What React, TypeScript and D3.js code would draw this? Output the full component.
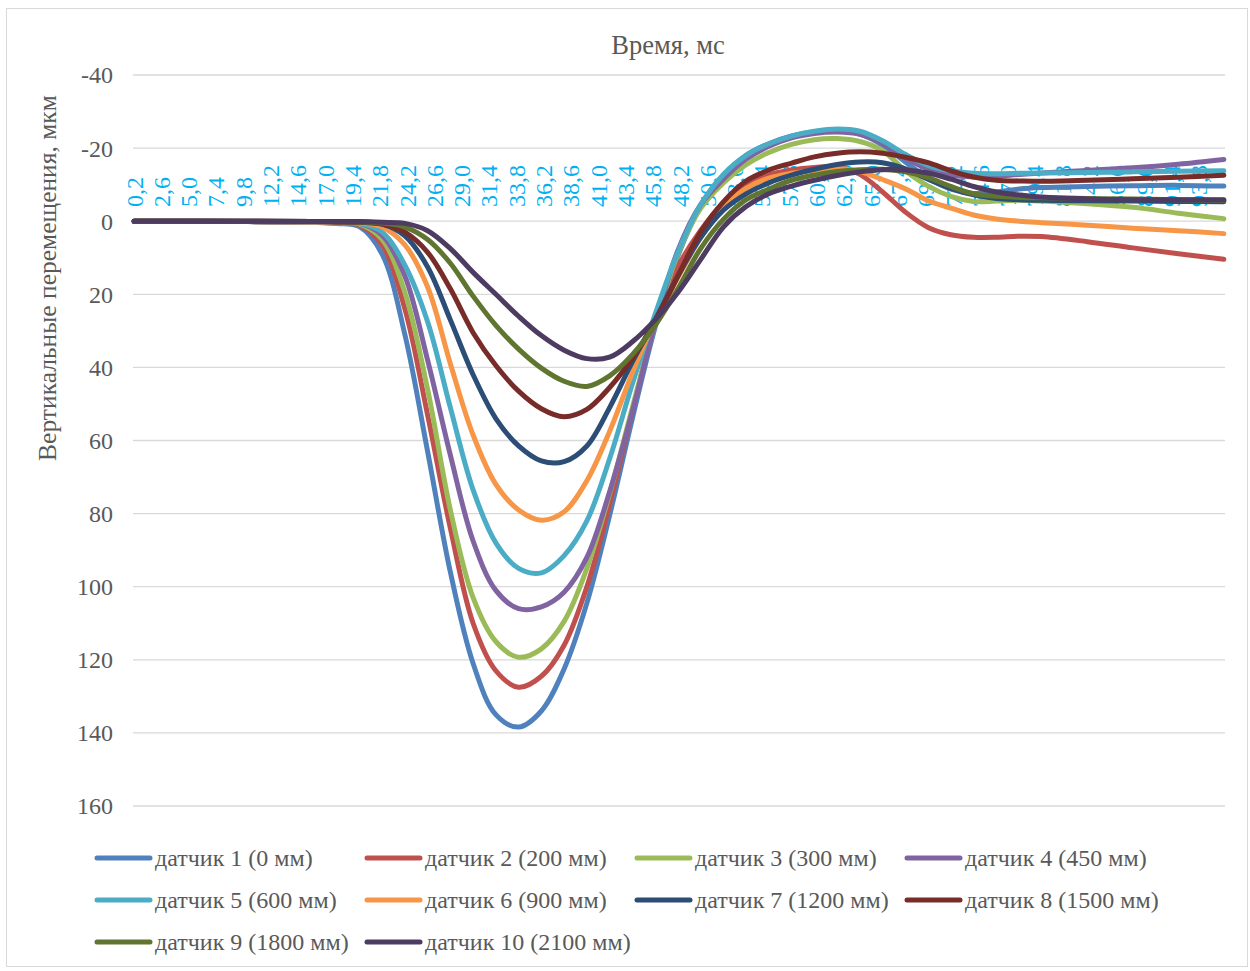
import React from "react";
import * as d3 from "d3";

// ---------- DATA ----------
const TIMES = [0.2, 10, 16, 18, 20, 22, 24, 26, 28, 30, 32, 34, 36, 38, 40, 42, 44, 46, 48,
  50, 52, 54, 56, 58, 60, 62, 64, 66, 68, 70, 72, 74, 76, 78, 80, 84, 88, 92, 96];

const S1 = [0, 0.1, 0.3, 0.6, 1.5, 9, 31, 63, 96, 121, 135, 138.4, 134, 122.5, 104.5, 80.5, 54, 29, 9.5,
  -4, -12.3, -18, -21.2, -23.3, -24.5, -24.8, -23.8, -20.8, -16.2, -11.8, -8.8, -7.6, -8.0, -8.8, -9.2, -9.5, -9.7, -9.8, -9.6];
const S2 = [0, 0.1, 0.3, 0.5, 1, 6.5, 24, 53, 84, 110, 123, 127.5, 124.5, 116, 100, 77.5, 52, 28, 12.5,
  2.5, -5, -10, -12.7, -14, -14.7, -14.9, -12.8, -8, -2.5, 1.7, 3.7, 4.4, 4.4, 4.1, 4.2, 5.6, 7.3, 8.9, 10.4];
const S3 = [0, 0.1, 0.3, 0.5, 0.8, 5, 19.5, 46, 79, 103, 115, 119.3, 117, 109.5, 95, 74.5, 51, 28, 9,
  -3.5, -10.5, -15.5, -18.8, -21, -22.3, -22.6, -21.8, -19.3, -13.8, -9.6, -6.8, -5.4, -5.5, -5.7, -5.5, -4.8, -3.8, -2.2, -0.7];
const S4 = [0, 0.1, 0.3, 0.4, 0.6, 3.8, 15, 38, 64, 87.5, 101, 106, 105.5, 101.5, 92, 74, 52, 28, 8,
  -4.5, -11.5, -17, -20.5, -22.8, -24, -24.4, -23.8, -21.3, -17.3, -14.3, -12.6, -12.1, -12.3, -12.8, -13.2, -13.9, -14.6, -15.6, -16.9];
const S5 = [0, 0.1, 0.2, 0.3, 0.5, 3, 12, 27.5, 51, 73.5, 88, 95, 96.2, 91.5, 82, 65, 44.5, 25.5, 8.5,
  -4.5, -12.8, -18, -21.2, -23.3, -24.6, -25.2, -24.6, -22, -18.3, -15.3, -13.8, -13.1, -13, -13.1, -13.2, -13.3, -13.5, -13.7, -13.8];
const S6 = [0, 0.1, 0.2, 0.3, 0.4, 1.6, 6.5, 18, 39, 58.5, 72, 79, 81.8, 79.5, 71, 57.5, 41.5, 27, 15.5,
  4.5, -3.8, -9, -11.8, -13.1, -13.9, -14.4, -13.6, -11.4, -8.9, -5.6, -3.6, -1.7, -0.6, 0, 0.4, 1.1, 1.9, 2.6, 3.4];
const S7 = [0, 0, 0.1, 0.2, 0.3, 0.8, 4, 12.5, 27, 42, 54, 61.5, 65.6, 65.8, 61.5, 51, 38.5, 27, 15,
  4.5, -3, -7.5, -10.5, -12.6, -14.2, -15.5, -16.2, -16, -14.3, -11.5, -9, -7.2, -6.2, -5.9, -5.7, -5.6, -5.5, -5.4, -5.3];
const S8 = [0, 0, 0.1, 0.2, 0.3, 0.8, 3, 8.5, 18.5, 30.5, 39.5, 46.5, 51.3, 53.5, 51.5, 45.5, 37.5, 27.5, 15,
  3, -5.3, -11, -14, -15.9, -17.6, -18.6, -19, -18.6, -17.5, -16, -13.8, -12.1, -11.2, -11, -10.9, -11.2, -11.6, -12, -12.6];
const S9 = [0, 0, 0.1, 0.1, 0.2, 0.5, 1.6, 5, 11.5, 20.5, 28.5, 35, 40.2, 43.8, 45.2, 42.3, 36.5, 28.5, 18.5,
  7.5, -0.5, -5.9, -8.8, -11.2, -12.6, -13.6, -14.1, -14.2, -13.5, -11.9, -9.5, -7.5, -6.8, -6.5, -6.4, -6.2, -6.1, -5.9, -5.7];
const S10 = [0, 0, 0.1, 0.1, 0.1, 0.3, 0.6, 2.6, 7.5, 14, 20, 26, 31.3, 35.3, 37.6, 37.2, 33, 27, 19.5,
  10.5, 1.6, -4, -7.5, -9.6, -11.2, -12.5, -13.5, -14.1, -14, -13.2, -11.5, -9.5, -8, -7.2, -6.6, -6.1, -5.9, -5.9, -5.9];

const SERIES_NAMES = [
  "датчик 1 (0 мм)", "датчик 2 (200 мм)", "датчик 3 (300 мм)", "датчик 4 (450 мм)",
  "датчик 5 (600 мм)", "датчик 6 (900 мм)", "датчик 7 (1200 мм)", "датчик 8 (1500 мм)",
  "датчик 9 (1800 мм)", "датчик 10 (2100 мм)",
];
const SERIES_VALUES = [S1, S2, S3, S4, S5, S6, S7, S8, S9, S10];
const COLORS = ["#4F81BD", "#C0504D", "#9BBB59", "#8064A2", "#4BACC6", "#F79646",
  "#2C4D75", "#772C2A", "#5F7530", "#4D3B62"];

const X_TICK_LABELS = ["0,2", "2,6", "5,0", "7,4", "9,8", "12,2", "14,6", "17,0", "19,4", "21,8",
  "24,2", "26,6", "29,0", "31,4", "33,8", "36,2", "38,6", "41,0", "43,4", "45,8", "48,2", "50,6",
  "53,0", "55,4", "57,8", "60,2", "62,6", "65,0", "67,4", "69,8", "72,2", "74,6", "77,0", "79,4",
  "81,8", "84,2", "86,6", "89,0", "91,4", "93,8"];
const Y_TICKS = [-40, -20, 0, 20, 40, 60, 80, 100, 120, 140, 160];

const TITLE = "Время, мс";
const Y_TITLE = "Вертикальные перемещения, мкм";

// ---------- LAYOUT ----------
const W = 1250, H = 971;
const FONT = "'Liberation Serif', 'Times New Roman', serif";
const TXT = "#595959";

export default function App() {
  const x = d3.scaleLinear().domain([0.1, 96.1]).range([133, 1225]);
  const y = d3.scaleLinear().domain([-40, 160]).range([75, 806]);

  const line = d3.line<[number, number]>()
    .x(d => x(d[0]))
    .y(d => y(d[1]))
    .curve(d3.curveCatmullRom.alpha(0.5));

  return (
    <div style={{ position: "absolute", left: 0, top: 0 }}>
      <svg width={W} height={H} style={{ display: "block", background: "#fff" }} fontFamily={FONT}>
        <rect x={6.5} y={8.5} width={1241} height={958} fill="#fff" stroke="#D9D9D9" />
        {Y_TICKS.map(t => (
          <line key={"g" + t} x1={x.range()[0]} x2={x.range()[1]} y1={y(t)} y2={y(t)}
            stroke="#D9D9D9" strokeWidth={1.3} />
        ))}
        {Y_TICKS.map(t => (
          <text key={"yt" + t} x={113} y={y(t)} dy="0.35em" textAnchor="end" fontSize={24} fill={TXT}>
            {String(t)}
          </text>
        ))}
        {X_TICK_LABELS.map(lbl => {
          const v = parseFloat(lbl.replace(",", "."));
          const px = x(v);
          const py = 207;
          return (
            <text key={"xt" + lbl} x={px} y={py} dy="0.35em" textAnchor="start" fontSize={24}
              fill="#00B0F0" transform={`rotate(-90, ${px}, ${py})`}>
              {lbl}
            </text>
          );
        })}
        {SERIES_VALUES.map((vals, i) => {
          const n = Math.min(vals.length, TIMES.length);
          const pts: [number, number][] = [];
          for (let k = 0; k < n; k++) pts.push([TIMES[k], vals[k]]);
          return (
            <path key={"s" + i} d={line(pts) || ""} fill="none" stroke={COLORS[i]} strokeWidth={5}
              strokeLinejoin="round" strokeLinecap="round" />
          );
        })}
        <text x={668} y={45} dy="0.35em" textAnchor="middle" fontSize={26.5} fill={TXT}>{TITLE}</text>
        <text transform="translate(47, 278) rotate(-90)" dy="0.35em" textAnchor="middle" fontSize={25.5} fill={TXT}>
          {Y_TITLE}
        </text>
        {SERIES_NAMES.map((name, i) => {
          const col = i % 4, row = Math.floor(i / 4);
          const lx = 97 + col * 270;
          const ly = 858 + row * 42;
          return (
            <g key={"l" + i}>
              <line x1={lx} x2={lx + 53} y1={ly} y2={ly} stroke={COLORS[i]} strokeWidth={5} strokeLinecap="round" />
              <text x={lx + 58} y={ly} dy="0.35em" fontSize={24} fill={TXT}>{name}</text>
            </g>
          );
        })}
      </svg>
    </div>
  );
}
